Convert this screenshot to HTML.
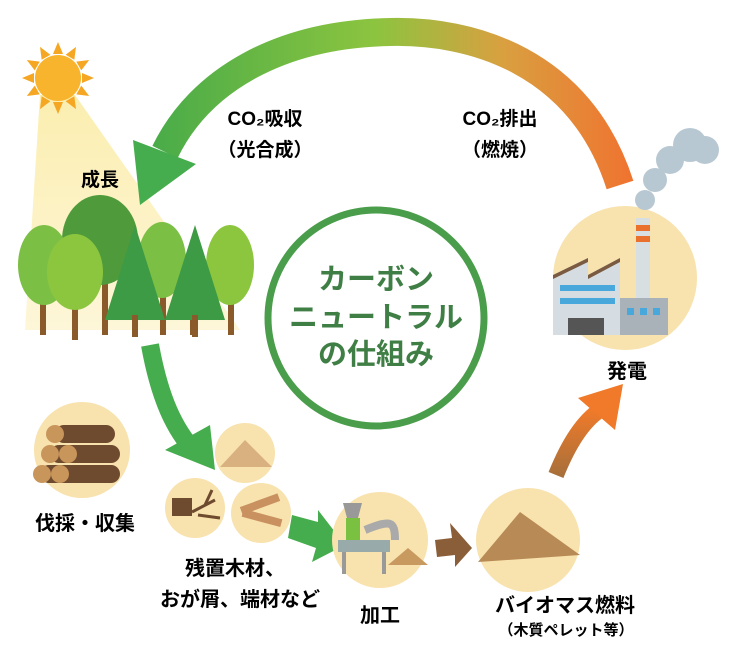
<!DOCTYPE html>
<html><head><meta charset="utf-8"><style>
html,body{margin:0;padding:0;background:#fff;}
svg text{font-family:"Liberation Sans","Noto Sans CJK JP",sans-serif;font-weight:bold;}
</style></head><body>
<svg width="730" height="654" viewBox="0 0 730 654" xmlns="http://www.w3.org/2000/svg">
<defs>
<linearGradient id="arc" x1="120" y1="0" x2="630" y2="0" gradientUnits="userSpaceOnUse">
<stop offset="0" stop-color="#3fa84a"/><stop offset="0.5" stop-color="#8cc43f"/><stop offset="0.75" stop-color="#d9a040"/><stop offset="1" stop-color="#ef7430"/>
</linearGradient>
<linearGradient id="beam" x1="0" y1="0" x2="0" y2="1"><stop offset="0" stop-color="#fbeeb0"/><stop offset="1" stop-color="#fdf6d8"/></linearGradient>
<linearGradient id="up" x1="0" y1="1" x2="0" y2="0"><stop offset="0" stop-color="#a8703a"/><stop offset="1" stop-color="#f07a2a"/></linearGradient>
</defs>
<polygon points="40,95 75,95 240,330 25,330" fill="url(#beam)"/>
<g transform="translate(58,78)" fill="#f5a623">
<g id="ray"><polygon points="-5,-24 5,-24 0,-36"/></g>
<use href="#ray" transform="rotate(30)"/><use href="#ray" transform="rotate(60)"/><use href="#ray" transform="rotate(90)"/><use href="#ray" transform="rotate(120)"/><use href="#ray" transform="rotate(150)"/><use href="#ray" transform="rotate(180)"/><use href="#ray" transform="rotate(210)"/><use href="#ray" transform="rotate(240)"/><use href="#ray" transform="rotate(270)"/><use href="#ray" transform="rotate(300)"/><use href="#ray" transform="rotate(330)"/>
<circle r="23" fill="#f8b42c"/>
</g>
<path d="M620,185 C580,60 470,30 390,32 C280,34 200,80 165,152" fill="none" stroke="url(#arc)" stroke-width="28"/>
<polygon points="133,140 196,164 140,205" fill="#45ad4d"/>
<text x="265" y="125" font-size="19" text-anchor="middle">CO₂吸収</text>
<text x="265" y="156" font-size="19" text-anchor="middle">（光合成）</text>
<text x="500" y="125" font-size="19" text-anchor="middle">CO₂排出</text>
<text x="500" y="156" font-size="19" text-anchor="middle">（燃焼）</text>
<text x="100" y="186" font-size="19" text-anchor="middle">成長</text>
<g>
<rect x="40" y="260" width="6" height="75" fill="#8a5a2b"/><rect x="72" y="270" width="6" height="70" fill="#8a5a2b"/>
<rect x="102" y="250" width="6" height="85" fill="#8a5a2b"/><rect x="160" y="260" width="6" height="75" fill="#8a5a2b"/>
<rect x="228" y="265" width="6" height="70" fill="#8a5a2b"/><rect x="190" y="270" width="6" height="65" fill="#8a5a2b"/>
<ellipse cx="100" cy="240" rx="38" ry="45" fill="#4f9a3a"/>
<ellipse cx="44" cy="265" rx="26" ry="40" fill="#7cbf45"/>
<ellipse cx="75" cy="272" rx="28" ry="38" fill="#8cc63f"/>
<ellipse cx="162" cy="260" rx="24" ry="38" fill="#7cbf45"/>
<ellipse cx="230" cy="265" rx="24" ry="40" fill="#8cc63f"/>
<polygon points="135,225 105,320 165,320" fill="#3d9a45"/>
<rect x="132" y="315" width="6" height="22" fill="#8a5a2b"/>
<polygon points="195,225 165,320 225,320" fill="#3d9a45"/>
<rect x="192" y="315" width="6" height="22" fill="#8a5a2b"/>
</g>
<circle cx="376" cy="318" r="108" fill="#fff" stroke="#4a9d4a" stroke-width="7"/>
<text x="376" y="289" font-size="29" fill="#3f7f45" text-anchor="middle">カーボン</text>
<text x="376" y="327" font-size="29" fill="#3f7f45" text-anchor="middle">ニュートラル</text>
<text x="376" y="364" font-size="29" fill="#3f7f45" text-anchor="middle">の仕組み</text>
<circle cx="625" cy="278" r="72" fill="#f8e2ae"/>
<g fill="#b8c8d2"><circle cx="645" cy="200" r="10"/><circle cx="655" cy="180" r="12"/><circle cx="670" cy="160" r="14"/><circle cx="690" cy="145" r="17"/><circle cx="705" cy="150" r="14"/></g>
<rect x="636" y="218" width="14" height="100" fill="#d8dfe3"/>
<rect x="636" y="225" width="14" height="6" fill="#e9702d"/><rect x="636" y="236" width="14" height="6" fill="#e9702d"/>
<polygon points="553,275 588,258 588,335 553,335" fill="#d5dde2"/>
<polygon points="588,275 620,258 620,335 588,335" fill="#d5dde2"/>
<polygon points="553,275 588,258 588,262 553,279" fill="#7a5a40"/>
<polygon points="588,275 620,258 620,262 588,279" fill="#7a5a40"/>
<rect x="560" y="285" width="55" height="6" fill="#48a8dc"/><rect x="560" y="298" width="55" height="6" fill="#48a8dc"/>
<rect x="568" y="318" width="36" height="17" fill="#555"/>
<rect x="620" y="298" width="48" height="37" fill="#a8b2b8"/>
<rect x="627" y="308" width="7" height="7" fill="#48a8dc"/><rect x="640" y="308" width="7" height="7" fill="#48a8dc"/><rect x="653" y="308" width="7" height="7" fill="#48a8dc"/>
<text x="627" y="378" font-size="20" text-anchor="middle">発電</text>
<path d="M150,345 C160,400 175,430 195,452" fill="none" stroke="#45ad4d" stroke-width="18"/>
<polygon points="165,450 215,470 210,425" fill="#45ad4d"/>
<circle cx="82" cy="450" r="48" fill="#f8e2ae"/>
<g fill="#6e4a2e"><rect x="55" y="425" width="60" height="18" rx="9"/><rect x="50" y="445" width="70" height="18" rx="9"/><rect x="40" y="465" width="80" height="18" rx="9"/></g>
<g fill="#c8955a"><circle cx="55" cy="434" r="9"/><circle cx="50" cy="454" r="9"/><circle cx="42" cy="474" r="9"/><circle cx="60" cy="474" r="9"/><circle cx="68" cy="454" r="9"/></g>
<text x="85" y="530" font-size="20" text-anchor="middle">伐採・収集</text>
<circle cx="245" cy="453" r="30" fill="#f8e2ae"/>
<polygon points="220,467 245,440 272,467" fill="#d9b080"/>
<circle cx="195" cy="508" r="30" fill="#f8e2ae"/>
<rect x="172" y="498" width="20" height="18" fill="#6e4a2e"/><path d="M192,512 L215,500 M198,515 L220,518 M205,505 L212,490" stroke="#6e4a2e" stroke-width="3"/>
<circle cx="261" cy="513" r="30" fill="#f8e2ae"/>
<g fill="#c99060"><rect x="240" y="500" width="40" height="8" transform="rotate(-20 260 504)"/><rect x="242" y="514" width="40" height="8" transform="rotate(15 262 518)"/></g>
<text x="235" y="575" font-size="20" text-anchor="middle">残置木材、</text>
<text x="240" y="606" font-size="20" text-anchor="middle">おが屑、端材など</text>
<polygon points="292,515 318,522 318,510 345,545 312,562 316,548 288,538" fill="#45ad4d"/>
<circle cx="380" cy="540" r="48" fill="#f8e2ae"/>
<polygon points="343,503 362,503 358,518 347,518" fill="#999"/>
<rect x="346" y="518" width="14" height="22" fill="#7ac142"/>
<rect x="338" y="540" width="52" height="12" fill="#9aa"/>
<path d="M365,530 C390,520 395,520 395,540" stroke="#aaa" stroke-width="8" fill="none"/>
<rect x="342" y="552" width="4" height="22" fill="#999"/><rect x="382" y="552" width="4" height="22" fill="#999"/>
<polygon points="388,565 408,548 428,565" fill="#c99a60"/>
<text x="380" y="622" font-size="20" text-anchor="middle">加工</text>
<polygon points="435,540 452,538 450,523 472,548 455,567 455,555 437,557" fill="#8a5e38"/>
<circle cx="528" cy="540" r="52" fill="#f8e2ae"/>
<polygon points="478,562 520,512 580,555" fill="#b88a55"/>
<text x="565" y="612" font-size="20" text-anchor="middle">バイオマス燃料</text>
<text x="566" y="635" font-size="15" text-anchor="middle">（木質ペレット等）</text>
<path d="M556,475 C570,440 585,420 600,410" fill="none" stroke="url(#up)" stroke-width="16"/>
<polygon points="578,398 623,384 615,430" fill="#f07a2a"/>
</svg>
</body></html>
